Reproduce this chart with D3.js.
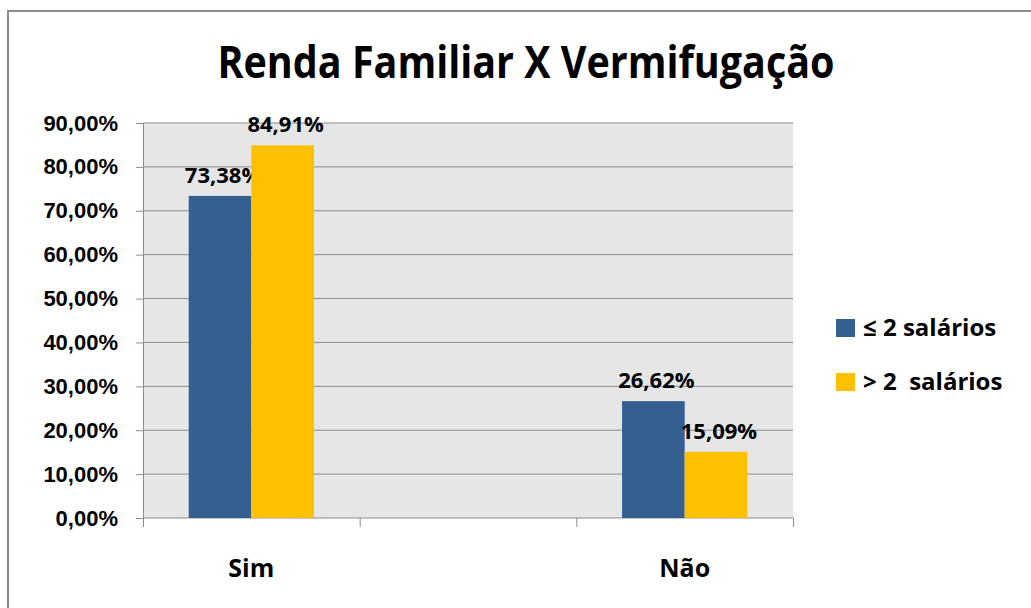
<!DOCTYPE html>
<html>
<head>
<meta charset="utf-8">
<script src="https://cdn.jsdelivr.net/npm/d3@7"></script>
<style>
  body { margin: 0; background: #fff; }
  svg { display: block; font-family: "Open Sans", sans-serif; font-weight: bold; }
</style>
</head>
<body>
<svg class="chart" width="1031" height="608"></svg>
<script>
var categories = ["Sim", "", "Não"];
var seriesNames = ["≤ 2 salários", "> 2  salários"];
var lowIncome = [73.38, null, 26.62];
var highIncome = [84.91, null, 15.09];
var yTicks = [0, 10, 20, 30, 40, 50, 60, 70, 80, 90];
var colors = ["#365f91", "#ffc000"];

var margin = {top: 123, left: 143};
var chartWidth = 793 - 143;
var chartHeight = 518 - 123;

var svg = d3.select(".chart");

// outer frame
svg.append("path")
  .attr("d", "M8,620 V11 H1040")
  .attr("fill", "none")
  .attr("stroke", "#8c8c8c")
  .attr("stroke-width", 2);

svg.append("text")
  .attr("x", 526)
  .attr("y", 78)
  .attr("text-anchor", "middle")
  .attr("textLength", 617)
  .attr("lengthAdjust", "spacingAndGlyphs")
  .style("font-size", "44px")
  .text("Renda Familiar X Vermifugação");

var chart = svg.append("g").attr("transform", "translate(" + margin.left + "," + margin.top + ")");

var x = d3.scaleBand().domain(categories.map(function(d, i) { return i; })).range([0, chartWidth]);
var x1 = d3.scaleBand().domain([0, 1]).range([0, x.bandwidth()]).paddingOuter(0.73).paddingInner(0);
var y = d3.scaleLinear().domain([0, 90]).range([chartHeight, 0]);

chart.append("rect")
  .attr("width", chartWidth)
  .attr("height", chartHeight)
  .attr("fill", "#e6e6e6");

// gridlines
chart.append("g")
  .selectAll("line")
  .data(yTicks.filter(function(d) { return d > 0; }))
  .enter().append("line")
  .attr("x1", 0).attr("x2", chartWidth)
  .attr("y1", function(d) { return y(d); })
  .attr("y2", function(d) { return y(d); })
  .attr("stroke", "#8c8c8c");

// y axis
var yAxis = chart.append("g")
  .call(d3.axisLeft(y).tickValues(yTicks).tickSize(7).tickPadding(18)
    .tickFormat(function(d) { return d3.format(".2f")(d).replace(".", ",") + "%"; }));
yAxis.selectAll("path, line").attr("stroke", "#8c8c8c");
yAxis.selectAll("text").style("font-size", "22px").style("font-family", "inherit").attr("fill", "#000");

// x axis
var xAxis = chart.append("g")
  .attr("transform", "translate(0," + chartHeight + ")")
  .call(d3.axisBottom(d3.scaleLinear().domain([0, 3]).range([0, chartWidth])).ticks(3).tickSize(9).tickFormat(""));
xAxis.selectAll("path, line").attr("stroke", "#8c8c8c");
xAxis.select("path").attr("d", "M0,0H" + chartWidth);

chart.append("g")
  .selectAll("text")
  .data(categories)
  .enter().append("text")
  .attr("x", function(d, i) { return x(i) + x.bandwidth() / 2; })
  .attr("y", chartHeight + 59)
  .attr("text-anchor", "middle")
  .style("font-size", "25px")
  .text(function(d) { return d; });

var series = [lowIncome, highIncome];
series.forEach(function(vals, s) {
  var g = chart.append("g");
  var pts = vals.map(function(v, i) { return {v: v, i: i}; }).filter(function(d) { return d.v !== null; });
  g.selectAll("rect")
    .data(pts)
    .enter().append("rect")
    .attr("x", function(d) { return x(d.i) + x1(s); })
    .attr("y", function(d) { return y(d.v); })
    .attr("width", x1.bandwidth())
    .attr("height", function(d) { return chartHeight - y(d.v); })
    .attr("fill", colors[s]);
  g.selectAll("text")
    .data(pts)
    .enter().append("text")
    .attr("x", function(d) { return x(d.i) + x1(s) + x1.bandwidth() / 2 + 3; })
    .attr("y", function(d) { return y(d.v) - 13; })
    .attr("text-anchor", "middle")
    .style("font-size", "22px")
    .text(function(d) { return d3.format(".2f")(d.v).replace(".", ",") + "%"; });
});

// legend
var legend = svg.append("g").selectAll("g")
  .data(seriesNames)
  .enter().append("g")
  .attr("transform", function(d, i) { return "translate(836," + (319 + i * 54) + ")"; });
legend.append("rect")
  .attr("width", 19).attr("height", 18)
  .attr("fill", function(d, i) { return colors[i]; });
legend.append("text")
  .attr("x", 27).attr("y", 17)
  .style("font-size", "24px")
  .attr("xml:space", "preserve")
  .text(function(d) { return d; });
</script>
</body>
</html>
